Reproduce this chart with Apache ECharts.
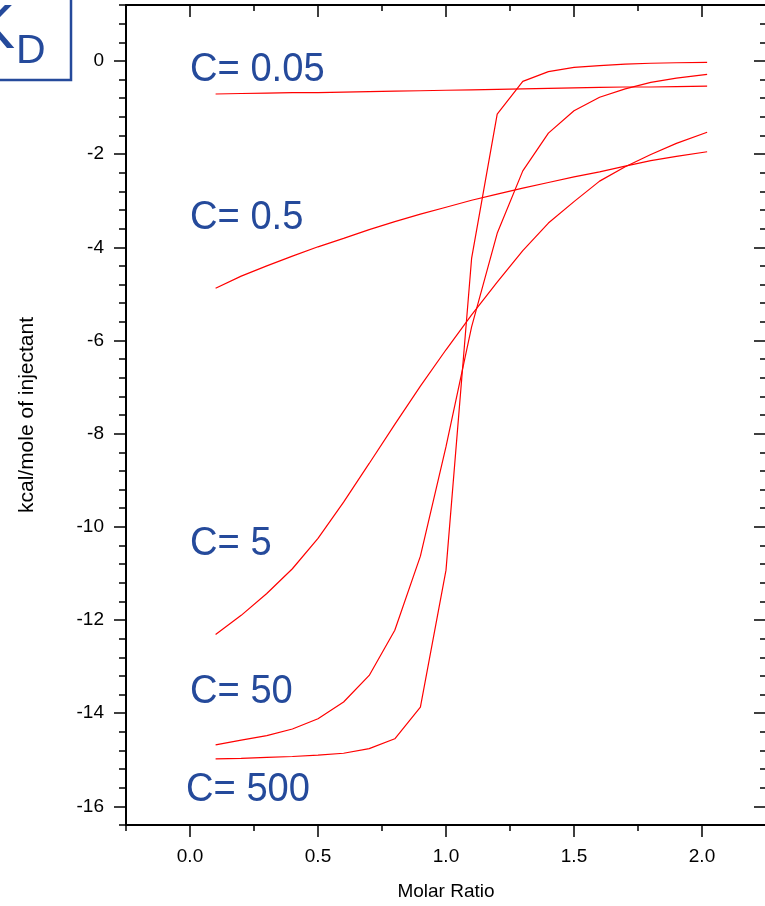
<!DOCTYPE html>
<html>
<head>
<meta charset="utf-8">
<script src="https://cdn.jsdelivr.net/npm/echarts@6/dist/echarts.min.js"></script>
<style>
  html, body { margin: 0; padding: 0; background: #fff; }
  #chart { width: 765px; height: 906px; }
</style>
</head>
<body>
<div id="chart"></div>
<script>
// molar ratio of each injection
const molarRatio = [0.1, 0.2, 0.3, 0.4, 0.5, 0.6, 0.7, 0.8, 0.9, 1.0,
                    1.1, 1.2, 1.3, 1.4, 1.5, 1.6, 1.7, 1.8, 1.9, 2.02];

// kcal/mole of injectant for each C value
const c005 = [-0.71, -0.70, -0.69, -0.68, -0.68, -0.67, -0.66, -0.65, -0.64, -0.63,
              -0.62, -0.61, -0.60, -0.59, -0.58, -0.57, -0.56, -0.56, -0.55, -0.54];
const c05 = [-4.88, -4.62, -4.40, -4.19, -3.99, -3.81, -3.62, -3.45, -3.29, -3.14,
             -2.99, -2.86, -2.73, -2.61, -2.49, -2.38, -2.26, -2.14, -2.05, -1.95];
const c5 = [-12.31, -11.90, -11.43, -10.90, -10.25, -9.47, -8.64, -7.80, -6.98, -6.20,
            -5.45, -4.75, -4.07, -3.48, -3.02, -2.58, -2.27, -2.01, -1.77, -1.53];
const c50 = [-14.68, -14.58, -14.48, -14.34, -14.12, -13.76, -13.19, -12.22, -10.63, -8.28,
             -5.71, -3.70, -2.36, -1.55, -1.07, -0.78, -0.60, -0.46, -0.37, -0.29];
const c500 = [-14.98, -14.97, -14.95, -14.93, -14.90, -14.86, -14.76, -14.55, -13.87, -10.93,
              -4.24, -1.14, -0.44, -0.23, -0.14, -0.10, -0.07, -0.05, -0.04, -0.03];

const curveLabels = ['C= 0.05', 'C= 0.5', 'C= 5', 'C= 50', 'C= 500'];
const xMajorTicks = [0, 0.5, 1.0, 1.5, 2.0];
const yMajorTicks = [0, -2, -4, -6, -8, -10, -12, -14, -16];

const blue = '#254a9b';
const tickFont = { color: '#000', fontSize: 19, fontFamily: 'Liberation Sans, Arial, sans-serif' };

const chart = echarts.init(document.getElementById('chart'));

const pairs = (ys) => molarRatio.map((x, i) => [x, ys[i]]);

const isStep = (v, step) => Math.abs(v / step - Math.round(v / step)) < 1e-6;

const xBase = {
    type: 'value', min: -0.25, max: 2.25, interval: 0.25,
    splitLine: { show: false }
};
const yBase = {
    type: 'value', min: -16.4, max: 1.2, interval: 0.4,
    splitLine: { show: false }
};
const blackLine = { show: true, onZero: false, lineStyle: { color: '#000', width: 2 } };
const noLine = { show: false, onZero: false };

const option = {
    animation: false,
    backgroundColor: '#fff',
    grid: { left: 126, top: 5, width: 640, height: 820, outerBoundsMode: 'none' },
    xAxis: [
        {
            ...xBase, position: 'bottom',
            axisLine: blackLine,
            axisTick: { show: true, length: 6, lineStyle: { color: '#000', width: 1.5 } },
            axisLabel: {
                ...tickFont, margin: 22,
                formatter: v => isStep(v, 0.5) && v >= 0 && v <= 2 ? v.toFixed(1) : ''
            },
            name: 'Molar Ratio', nameLocation: 'middle', nameGap: 57,
            nameTextStyle: tickFont
        },
        {
            ...xBase, position: 'bottom',
            axisLine: noLine,
            axisTick: { show: true, length: 12, customValues: xMajorTicks, lineStyle: { color: '#000', width: 1.5 } },
            axisLabel: { show: false }
        },
        {
            ...xBase, position: 'top',
            axisLine: blackLine,
            axisTick: { show: true, inside: true, length: 6, lineStyle: { color: '#000', width: 1.5 } },
            axisLabel: { show: false }
        },
        {
            ...xBase, position: 'top',
            axisLine: noLine,
            axisTick: { show: true, inside: true, length: 12, customValues: xMajorTicks, lineStyle: { color: '#000', width: 1.5 } },
            axisLabel: { show: false }
        }
    ],
    yAxis: [
        {
            ...yBase, position: 'left',
            axisLine: blackLine,
            axisTick: { show: true, length: 7, lineStyle: { color: '#000', width: 1.5 } },
            axisLabel: {
                ...tickFont, margin: 22,
                formatter: v => {
                    const r = Math.round(v * 10) / 10;
                    return isStep(r, 2) && r <= 0 && r >= -16 ? String(r) : '';
                }
            },
            name: 'kcal/mole of injectant', nameLocation: 'middle', nameRotate: 90, nameGap: 88,
            nameTextStyle: { ...tickFont, fontSize: 21 }
        },
        {
            ...yBase, position: 'left',
            axisLine: noLine,
            axisTick: { show: true, length: 12, customValues: yMajorTicks, lineStyle: { color: '#000', width: 1.5 } },
            axisLabel: { show: false }
        },
        {
            ...yBase, position: 'right',
            axisLine: blackLine,
            axisTick: { show: true, inside: true, length: 6, lineStyle: { color: '#000', width: 1.5 } },
            axisLabel: { show: false }
        },
        {
            ...yBase, position: 'right',
            axisLine: noLine,
            axisTick: { show: true, inside: true, length: 12, customValues: yMajorTicks, lineStyle: { color: '#000', width: 1.5 } },
            axisLabel: { show: false }
        }
    ],
    series: [c005, c05, c5, c50, c500].map((ys, i) => ({
        name: curveLabels[i],
        type: 'line',
        xAxisIndex: 0,
        yAxisIndex: 0,
        data: pairs(ys),
        showSymbol: false,
        lineStyle: { color: '#ff0000', width: 1.2 },
        emphasis: { disabled: true }
    })),
    graphic: [
        // K_D box, mostly cut off at the top left
        {
            type: 'rect', shape: { x: -60, y: -30, width: 131, height: 110 },
            style: { fill: 'none', stroke: blue, lineWidth: 2.5 }
        },
        {
            type: 'text', x: 15, y: 31,
            style: { text: 'K', fill: blue, fontSize: 63, fontFamily: 'Liberation Sans', align: 'right', verticalAlign: 'middle' }
        },
        {
            type: 'text', x: 16, y: 52,
            style: { text: 'D', fill: blue, fontSize: 41, fontFamily: 'Liberation Sans', align: 'left', verticalAlign: 'middle' }
        },
        ...curveLabels.map((t, i) => ({
            type: 'text',
            x: [190, 190, 190, 190, 186][i],
            y: [70, 218, 544, 692, 790][i],
            scaleX: 0.93,
            style: { text: t, fill: blue, fontSize: 41, fontFamily: 'Liberation Sans', align: 'left', verticalAlign: 'middle' }
        }))
    ]
};

chart.setOption(option);
</script>
</body>
</html>
